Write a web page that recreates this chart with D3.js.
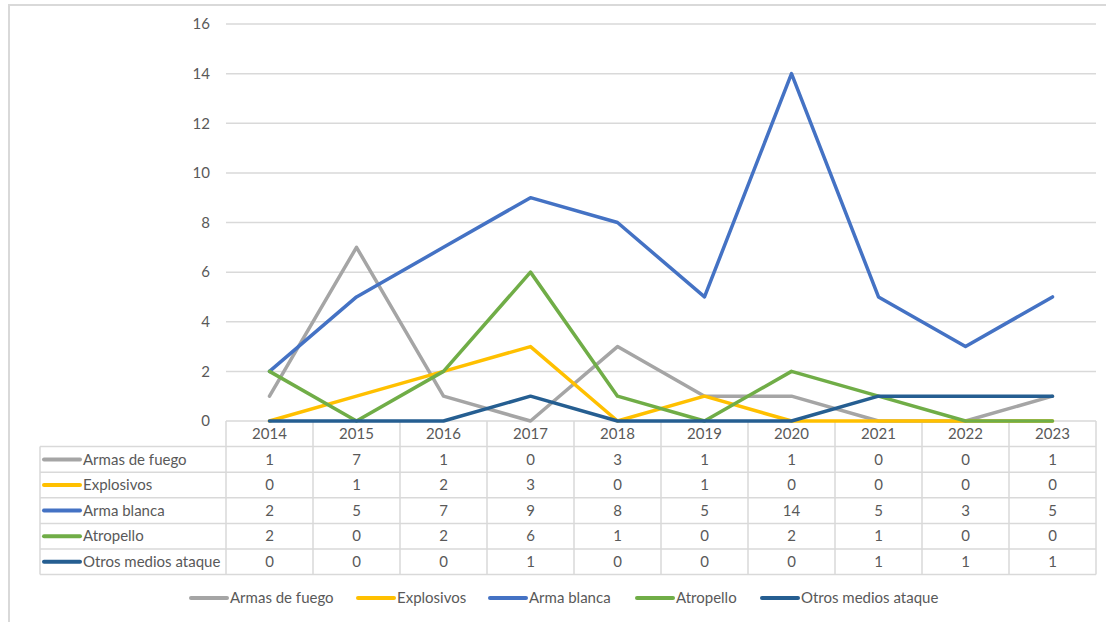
<!DOCTYPE html>
<html>
<head>
<meta charset="utf-8">
<script src="https://cdn.jsdelivr.net/npm/d3@7"></script>
<style>
  body { margin: 0; background: #fff; }
  svg text { font-family: Lato, "Open Sans", sans-serif; fill: #595959; font-size: 15px; }
</style>
</head>
<body>
<div id="chart"></div>
<script>

var years = ['2014','2015','2016','2017','2018','2019','2020','2021','2022','2023'];
var seriesNames = ['Armas de fuego','Explosivos','Arma blanca','Atropello','Otros medios ataque'];
var armasFuego = [1,7,1,0,3,1,1,0,0,1];
var explosivos = [0,1,2,3,0,1,0,0,0,0];
var armaBlanca = [2,5,7,9,8,5,14,5,3,5];
var atropello  = [2,0,2,6,1,0,2,1,0,0];
var otros      = [0,0,0,1,0,0,0,1,1,1];
var yTicks = [0,2,4,6,8,10,12,14,16];

var colors = ['#A5A5A5','#FFC000','#4472C4','#70AD47','#255E91'];
var allValues = [armasFuego, explosivos, armaBlanca, atropello, otros];

var series = seriesNames.map(function(n, i){ return {name: n, values: allValues[i], color: colors[i]}; });

var W = 1106, H = 622;
var plotLeft = 226, plotRight = 1096, plotTop = 24, plotBottom = 421;
var labelLeft = 40;
var rowH = 25.6;
var gridColor = '#D9D9D9';

var svg = d3.select('#chart').append('svg')
    .attr('width', W).attr('height', H);

// outer chart frame
svg.append('rect')
    .attr('x', 9).attr('y', 5)
    .attr('width', 1120).attr('height', 640)
    .attr('fill', 'none').attr('stroke', gridColor).attr('stroke-width', 2);

var x = d3.scaleBand().domain(years).range([plotLeft, plotRight]);
var y = d3.scaleLinear().domain([0, 16]).range([plotBottom, plotTop]);

// gridlines
svg.append('g').selectAll('line')
    .data(yTicks.filter(function(d){ return d > 0; }))
    .enter().append('line')
    .attr('x1', plotLeft).attr('x2', plotRight)
    .attr('y1', function(d){ return y(d); }).attr('y2', function(d){ return y(d); })
    .attr('stroke', gridColor).attr('stroke-width', 1.5);

// y axis labels
svg.append('g').selectAll('text')
    .data(yTicks)
    .enter().append('text')
    .attr('x', 210)
    .attr('y', function(d){ return y(d); })
    .attr('dy', '0.35em')
    .attr('text-anchor', 'end')
    .text(function(d){ return d; });

// table
var table = svg.append('g');
var nRows = series.length;
var tableBottom = plotBottom + rowH * (nRows + 1);

// horizontal table lines
table.append('line')
    .attr('x1', plotLeft).attr('x2', plotRight)
    .attr('y1', plotBottom).attr('y2', plotBottom)
    .attr('stroke', gridColor).attr('stroke-width', 1.5);
for (var r = 1; r <= nRows + 1; r++) {
  table.append('line')
      .attr('x1', labelLeft).attr('x2', plotRight)
      .attr('y1', plotBottom + rowH * r).attr('y2', plotBottom + rowH * r)
      .attr('stroke', gridColor).attr('stroke-width', 1.5);
}
// vertical table lines
table.append('line')
    .attr('x1', labelLeft).attr('x2', labelLeft)
    .attr('y1', plotBottom + rowH).attr('y2', tableBottom)
    .attr('stroke', gridColor).attr('stroke-width', 1.5);
table.selectAll('.vline')
    .data(years.concat(['end']))
    .enter().append('line')
    .attr('x1', function(d){ return d === 'end' ? plotRight : x(d); })
    .attr('x2', function(d){ return d === 'end' ? plotRight : x(d); })
    .attr('y1', plotBottom).attr('y2', tableBottom)
    .attr('stroke', gridColor).attr('stroke-width', 1.5);

// year headers
table.selectAll('.yr')
    .data(years)
    .enter().append('text')
    .attr('x', function(d){ return x(d) + x.bandwidth() / 2; })
    .attr('y', plotBottom + rowH / 2)
    .attr('dy', '0.35em')
    .attr('text-anchor', 'middle')
    .text(function(d){ return d; });

// rows
series.forEach(function(s, i){
  var cy = plotBottom + rowH * (i + 1) + rowH / 2;
  table.append('line')
      .attr('x1', 44).attr('x2', 80)
      .attr('y1', cy).attr('y2', cy)
      .attr('stroke', s.color).attr('stroke-width', 4).attr('stroke-linecap', 'round');
  table.append('text')
      .attr('x', 83).attr('y', cy).attr('dy', '0.35em')
      .text(s.name);
  table.selectAll('.v' + i)
      .data(s.values)
      .enter().append('text')
      .attr('x', function(d, j){ return x(years[j]) + x.bandwidth() / 2; })
      .attr('y', cy).attr('dy', '0.35em')
      .attr('text-anchor', 'middle')
      .text(function(d){ return d; });
});

// lines
var line = d3.line()
    .x(function(d, j){ return x(years[j]) + x.bandwidth() / 2; })
    .y(function(d){ return y(d); });

svg.append('g').selectAll('path')
    .data(series)
    .enter().append('path')
    .attr('d', function(s){ return line(s.values); })
    .attr('fill', 'none')
    .attr('stroke', function(s){ return s.color; })
    .attr('stroke-width', 3.5)
    .attr('stroke-linejoin', 'round')
    .attr('stroke-linecap', 'round');

// legend
var legendX = [191, 358, 490, 637, 762];
var legend = svg.append('g');
series.forEach(function(s, i){
  legend.append('line')
      .attr('x1', legendX[i]).attr('x2', legendX[i] + 36)
      .attr('y1', 598).attr('y2', 598)
      .attr('stroke', s.color).attr('stroke-width', 4).attr('stroke-linecap', 'round');
  legend.append('text')
      .attr('x', legendX[i] + 39).attr('y', 598).attr('dy', '0.35em')
      .text(s.name);
});

</script>
</body>
</html>
